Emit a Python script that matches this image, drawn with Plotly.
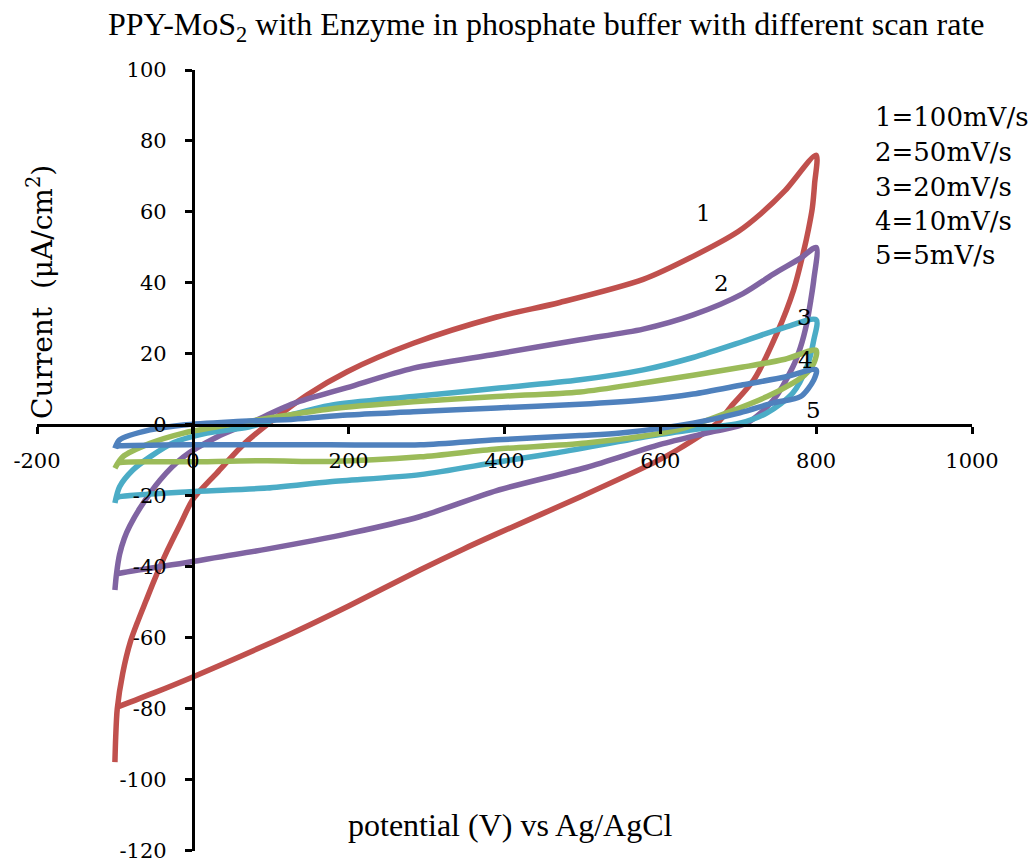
import plotly.graph_objects as go

# ---- data ----
# scan 1 = 100 mV/s
x1 = [-100, -99, -97, -90, -80, -70, -60, -50, -33, -15, 0, 31, 65, 95, 147, 198, 283, 390, 471, 578, 642, 700, 729, 760, 800,
      798, 795, 790, 784, 771, 750, 720, 690, 673, 622, 591, 497, 390, 347, 292, 200, 128, 0, -50, -97]
y1 = [-95, -88, -80, -70, -61, -55, -49.5, -44, -35.5, -27.5, -21, -13.5, -5.5, 0, 8.5, 15, 23, 30.4, 34.5, 41, 47.5, 54.5, 59.5, 66, 76,
      68, 61, 55, 49, 38, 26, 12.7, 5, 0.5, -7, -10.7, -20.3, -30.7, -35, -40.8, -51, -58.6, -71, -75.5, -79.5]
# scan 2 = 50 mV/s
x2 = [-100, -98, -94, -88, -81, -68, -42, -12, 31, 73, 129, 198, 283, 390, 497, 578, 642, 706, 745, 780, 800,
      797, 793, 788, 780, 770, 745, 711, 665, 600, 505, 390, 292, 202, 95, -4, -94, -97]
y2 = [-46.5, -42, -36.5, -32, -28.5, -23.5, -15.5, -9, -3.4, 0.5, 6, 10.5, 16, 20, 24, 27, 31, 37, 42.5, 47, 50,
      41, 35, 28.7, 22, 16.3, 7, 0.5, -2, -5.5, -12, -18.5, -25.8, -30.5, -35, -38.6, -41.8, -42]
# scan 3 = 20 mV/s
x3 = [-100, -94, -77, -55, -25, 18, 73, 129, 176, 283, 390, 497, 578, 642, 706, 760, 800,
      797, 788, 770, 737, 702, 660, 591, 463, 390, 292, 176, 95, -4, -94, -97]
y3 = [-22, -17.4, -12.7, -9, -5, -2.3, -0.5, 3, 5.5, 8, 10.3, 12.7, 15.5, 19, 23.5, 27.5, 29.6,
      24, 16.3, 9, 3.4, 0.5, -0.8, -3, -8, -10.5, -14, -16, -17.8, -18.8, -20.2, -20.5]
# scan 4 = 10 mV/s
x4 = [-100, -90, -55, -12, 31, 100, 176, 283, 390, 497, 578, 642, 706, 760, 800,
      797, 785, 770, 737, 685, 622, 505, 390, 292, 176, 95, -4, -94, -97]
y4 = [-12.2, -9, -5.2, -2.3, -0.5, 2, 4.5, 6.5, 8, 9.3, 11.8, 14, 16.3, 18.5, 21,
      17.4, 14, 11.8, 8, 3.4, -1.4, -5.1, -6.8, -9, -10.3, -10.1, -10.4, -10.6, -11]
# scan 5 = 5 mV/s
x5 = [-100, -94, -55, -12, 52, 129, 198, 283, 390, 497, 578, 642, 706, 760, 800,
      797, 780, 745, 702, 642, 549, 497, 390, 292, 176, 95, -4, -94, -97]
y5 = [-6.6, -4.2, -1.4, 0, 0.9, 1.6, 2.8, 3.7, 4.8, 5.8, 7, 8.7, 11.3, 13.5, 15.5,
      12.7, 8, 6.2, 3.4, 0.5, -2.3, -3, -4.2, -5.6, -5.6, -5.6, -5.6, -5.9, -6]

series_x = [x1, x2, x3, x4, x5]
series_y = [y1, y2, y3, y4, y5]
colors = ["#C0504D", "#8064A2", "#4BACC6", "#9BBB59", "#4F81BD"]
curve_labels = ["1", "2", "3", "4", "5"]
label_x = [655, 679, 785, 786, 796]
label_y = [59.7, 40, 30.4, 18.3, 4.2]
legend_lines = ["1=100mV/s", "2=50mV/s", "3=20mV/s", "4=10mV/s", "5=5mV/s"]

x_ticks = [-200, 0, 200, 400, 600, 800, 1000]
y_ticks = [-120, -100, -80, -60, -40, -20, 0, 20, 40, 60, 80, 100]

W, H = 1028, 863
L, R, T, B = 37, 56, 70, 12
pw, ph = W - L - R, H - T - B

def px_x(p):
    return (p - L) / pw

def px_y(p):
    return (H - B - p) / ph

SERIF = "DejaVu Serif"
TIMES = "Liberation Serif"

fig = go.Figure()
for xs, ys, c in zip(series_x, series_y, colors):
    fig.add_trace(go.Scatter(x=xs, y=ys, mode="lines",
                             line=dict(color=c, width=5.5, shape="spline", smoothing=0.8),
                             showlegend=False, hoverinfo="skip"))

annotations = []
for t, lx, ly in zip(curve_labels, label_x, label_y):
    annotations.append(dict(x=lx, y=ly, xref="x", yref="y", text=t, showarrow=False,
                            font=dict(family=SERIF, size=23, color="black")))
leg_y_px = [117, 152, 187, 221, 255]
for t, py in zip(legend_lines, leg_y_px):
    annotations.append(dict(x=px_x(873), y=px_y(py), xref="paper", yref="paper", text=t,
                            xanchor="left", yanchor="middle", showarrow=False,
                            font=dict(family=SERIF, size=26, color="black")))
annotations.append(dict(x=px_x(40), y=px_y(292), xref="paper", yref="paper",
                        text="Current  (μA/cm<sup>2</sup>)", textangle=-90,
                        xanchor="center", yanchor="middle", showarrow=False,
                        font=dict(family=SERIF, size=28, color="black")))
annotations.append(dict(x=px_x(510), y=px_y(825), xref="paper", yref="paper",
                        text="potential (V) vs Ag/AgCl",
                        xanchor="center", yanchor="middle", showarrow=False,
                        font=dict(family=TIMES, size=32, color="black")))
annotations.append(dict(x=px_x(546), y=px_y(27), xref="paper", yref="paper",
                        text="PPY-MoS<sub>2</sub> with Enzyme in phosphate buffer with different scan rate",
                        xanchor="center", yanchor="middle", showarrow=False,
                        font=dict(family=TIMES, size=32, color="black")))

axis_common = dict(showgrid=False, zeroline=False, showline=True, linecolor="black", linewidth=3,
                   ticks="outside", ticklen=7, tickwidth=3, tickcolor="black",
                   ticklabeloverflow="allow", automargin=False,
                   tickfont=dict(family=SERIF, size=21, color="black"))

fig.update_layout(
    width=W, height=H,
    margin=dict(l=L, r=R, t=T, b=B, autoexpand=False),
    paper_bgcolor="white", plot_bgcolor="white",
    font=dict(family=SERIF, color="black"),
    xaxis=dict(range=[-200, 1000], tickvals=x_ticks, ticktext=[str(v) for v in x_ticks],
               anchor="free", position=120 / 220, ticklabelstandoff=9, **axis_common),
    yaxis=dict(range=[-120.05, 100], tickvals=y_ticks, ticktext=[str(v) for v in y_ticks],
               anchor="free", position=200 / 1200, ticklabelstandoff=14, **axis_common),
    annotations=annotations,
)

fig.write_html("out.html")
